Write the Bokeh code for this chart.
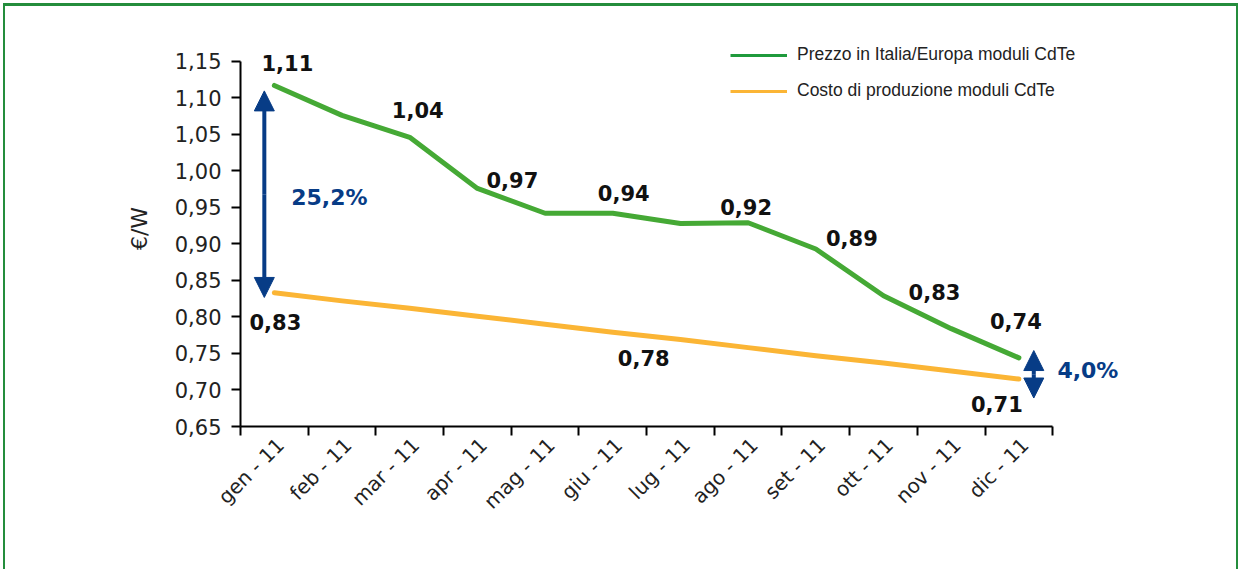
import math
from bokeh.plotting import figure
from bokeh.models import (Range1d, FixedTicker, CustomJSTickFormatter, Legend, LegendItem,
                          Label, Arrow, NormalHead)
from bokeh.embed import file_html
from bokeh.resources import INLINE

# ---------------- data ----------------
months = ["gen - 11", "feb - 11", "mar - 11", "apr - 11", "mag - 11", "giu - 11",
          "lug - 11", "ago - 11", "set - 11", "ott - 11", "nov - 11", "dic - 11"]
prezzo = [1.117, 1.076, 1.046, 0.976, 0.942, 0.942, 0.928, 0.929, 0.893, 0.829, 0.784, 0.744]
costo = [0.833, 0.822, 0.812, 0.801, 0.790, 0.779, 0.769, 0.758, 0.747, 0.737, 0.726, 0.715]
series_names = ["Prezzo in Italia/Europa moduli CdTe", "Costo di produzione moduli CdTe"]

prezzo_label_idx = [0, 2, 3, 5, 7, 8, 9, 11]
prezzo_label_txt = ["1,11", "1,04", "0,97", "0,94", "0,92", "0,89", "0,83", "0,74"]
costo_label_idx = [0, 5, 11]
costo_label_txt = ["0,83", "0,78", "0,71"]

gap_labels = ["25,2%", "4,0%"]
gap1_tips = [0.8267, 1.1095]
gap2_tips = [0.689, 0.754]
y_ticks = [0.65, 0.70, 0.75, 0.80, 0.85, 0.90, 0.95, 1.00, 1.05, 1.10, 1.15]

# ---------------- styles ----------------
GREEN = "#45a935"
GREEN_LEG = "#1f9a3c"
ORANGE = "#fbb535"
BLUE = "#073c86"
TICK_FONT = "DejaVu Sans"
LAB_FONT = "DejaVu Sans"

n = len(months)
xc = [i + 0.5 for i in range(n)]
nan = float("nan")

p = figure(width=1235, height=566, output_backend="svg", toolbar_location=None,
           x_range=Range1d(0, 13.4), y_range=Range1d(0.65, 1.1922),
           min_border_left=235, min_border_right=93, min_border_top=24, min_border_bottom=146)
p.styles = {"margin-left": "3px", "margin-top": "3px",
            "border-top": "3px solid #248d3c", "border-left": "2px solid #248d3c",
            "border-right": "2px solid #248d3c"}
p.outline_line_color = None
p.xgrid.visible = False
p.ygrid.visible = False
p.background_fill_color = "white"
p.border_fill_color = "white"

r1 = p.line(xc, prezzo, line_color=GREEN, line_width=5, line_cap="round", line_join="round")
r2 = p.line(xc, costo, line_color=ORANGE, line_width=5, line_cap="round", line_join="round")
# legend proxies (no visible data)
l1 = p.line([nan, nan], [nan, nan], line_color=GREEN_LEG, line_width=3)
l2 = p.line([nan, nan], [nan, nan], line_color=ORANGE, line_width=3)

legend = Legend(items=[LegendItem(label=series_names[0], renderers=[l1], index=0),
                       LegendItem(label=series_names[1], renderers=[l2], index=0)],
                location=(490, 325), orientation="vertical",
                padding=0, margin=0, spacing=15, glyph_width=57, glyph_height=20,
                label_height=20, label_standoff=10, border_line_color=None,
                background_fill_alpha=0, label_text_font="Liberation Sans",
                label_text_font_size="17.5px", label_text_color="#222222")
p.add_layout(legend)

# x axis
xa = p.xaxis[0]
xa.bounds = (0, n)
xa.ticker = FixedTicker(ticks=[x + 0.09 for x in xc], minor_ticks=list(range(n + 1)))
xa.major_label_overrides = {x + 0.09: m for x, m in zip(xc, months)}
xa.major_tick_in = 0
xa.major_tick_out = 0
xa.minor_tick_in = 0
xa.minor_tick_out = 9
xa.minor_tick_line_color = "black"
xa.minor_tick_line_width = 2
xa.axis_line_width = 2
xa.axis_line_color = "black"
xa.major_label_orientation = math.pi / 4
xa.major_label_text_font = TICK_FONT
xa.major_label_text_font_size = "20px"
xa.major_label_text_color = "#222222"
xa.major_label_standoff = 6

# y axis
ya = p.yaxis[0]
ya.bounds = (0.65, 1.15)
ya.ticker = FixedTicker(ticks=y_ticks, minor_ticks=[])
ya.formatter = CustomJSTickFormatter(code="return tick.toFixed(2).replace('.', ',');")
ya.major_tick_in = 0
ya.major_tick_out = 9
ya.major_tick_line_width = 2
ya.axis_line_width = 2
ya.axis_line_color = "black"
ya.major_label_text_font = TICK_FONT
ya.major_label_text_font_size = "21px"
ya.major_label_text_color = "#222222"
ya.major_label_standoff = 10
ya.axis_label = "€/W"
ya.axis_label_text_font = TICK_FONT
ya.axis_label_text_font_style = "normal"
ya.axis_label_text_font_size = "22px"
ya.axis_label_text_color = "#222222"
ya.axis_label_standoff = 20

# data labels
g_dx = [13, 8, 35, 11, -2, 36, 51, -3]
g_dy = [22, 27, 8, 20, 16, 11, 4, 37]
for i, t, dx, dy in zip(prezzo_label_idx, prezzo_label_txt, g_dx, g_dy):
    p.add_layout(Label(x=xc[i], y=prezzo[i], x_offset=dx, y_offset=dy, text=t,
                       text_align="center", text_baseline="middle", text_font=LAB_FONT,
                       text_font_style="bold", text_font_size="21px", text_color="#111111"))
o_dx = [1, 31, -22]
o_dy = [-29, -26, -25]
for i, t, dx, dy in zip(costo_label_idx, costo_label_txt, o_dx, o_dy):
    p.add_layout(Label(x=xc[i], y=costo[i], x_offset=dx, y_offset=dy, text=t,
                       text_align="center", text_baseline="middle", text_font=LAB_FONT,
                       text_font_style="bold", text_font_size="21px", text_color="#111111"))

# gap arrows
def double_arrow(x, lo, hi):
    mid = (lo + hi) / 2
    for tip in (lo, hi):
        p.add_layout(Arrow(x_start=x, y_start=mid, x_end=x, y_end=tip,
                           line_color=BLUE, line_width=4,
                           end=NormalHead(size=20, fill_color=BLUE, line_color=BLUE, line_width=1)))

double_arrow(xc[0] - 0.148, *gap1_tips)
double_arrow(xc[-1] + 0.22, *gap2_tips)

p.add_layout(Label(x=xc[0], y=(prezzo[0] + costo[0]) / 2, x_offset=55, y_offset=-8,
                   text=gap_labels[0], text_align="center", text_baseline="middle",
                   text_font=LAB_FONT, text_font_style="bold", text_font_size="22px",
                   text_color=BLUE))
p.add_layout(Label(x=xc[-1], y=(prezzo[-1] + costo[-1]) / 2, x_offset=69, y_offset=-2,
                   text=gap_labels[1], text_align="center", text_baseline="middle",
                   text_font=LAB_FONT, text_font_style="bold", text_font_size="22px",
                   text_color=BLUE))

open("out.html", "w").write(file_html(p, INLINE))
